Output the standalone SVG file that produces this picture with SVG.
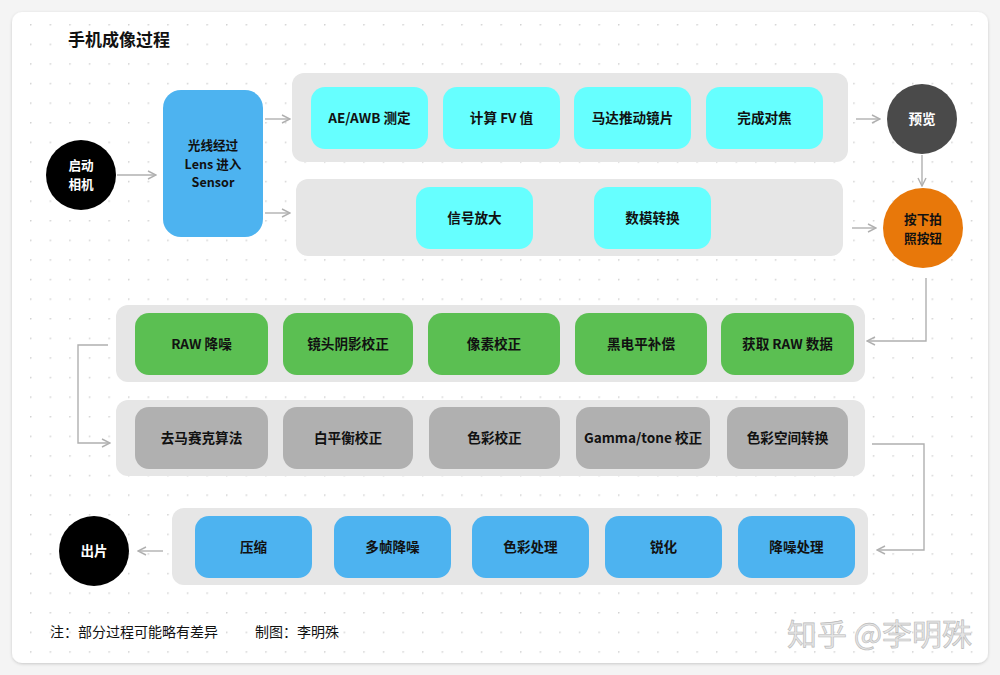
<svg xmlns="http://www.w3.org/2000/svg" width="1000" height="675" viewBox="0 0 1000 675">
<defs>
<pattern id="dots" x="30" y="24" width="19.6" height="19.6" patternUnits="userSpaceOnUse">
<circle cx="0.8" cy="0.8" r="0.8" fill="#c8c8c8"/>
</pattern>
<marker id="arr" viewBox="0 0 10 10" refX="9" refY="5" markerWidth="10" markerHeight="10" markerUnits="userSpaceOnUse" orient="auto">
<path d="M1,1 L9,5 L1,9" fill="none" stroke="#b0b0b0" stroke-width="1.4"/>
</marker>
<filter id="sh" x="-5%" y="-5%" width="110%" height="110%">
<feDropShadow dx="0" dy="1" stdDeviation="1.5" flood-color="#000" flood-opacity="0.18"/>
</filter>
</defs>
<style>
text{font-family:"Noto Sans CJK SC","Inter","Liberation Sans",sans-serif;font-weight:bold;font-size:13.6px;text-anchor:middle;fill:#111}
.ml{font-size:12.6px}
.grp{fill:#e6e6e6}
.cy{fill:#66ffff}
.gr{fill:#5bbf52}
.gy{fill:#b0b0b0}
.bl{fill:#4db3f0}
.conn{fill:none;stroke:#b0b0b0;stroke-width:1.4;marker-end:url(#arr)}
.note{font-weight:normal;text-anchor:start;font-size:14px}
</style>
<rect width="1000" height="675" fill="#f4f4f4"/>
<rect x="12" y="12" width="976" height="651" rx="10" fill="#fff" filter="url(#sh)"/>
<rect x="20" y="18" width="962" height="640" fill="url(#dots)"/>
<text x="68" y="46" style="text-anchor:start;font-size:17px">手机成像过程</text>

<g id="groups">
<rect class="grp" x="292" y="73" width="556" height="89" rx="12"/>
<rect class="grp" x="296" y="179" width="547" height="77" rx="12"/>
<rect class="grp" x="116" y="305" width="749" height="77" rx="12"/>
<rect class="grp" x="116" y="400" width="749" height="76" rx="12"/>
<rect class="grp" x="172" y="508" width="696" height="77" rx="12"/>
</g>

<g id="connectors">
<line class="conn" x1="117" y1="175" x2="156" y2="175"/>
<line class="conn" x1="265" y1="119" x2="290" y2="119"/>
<line class="conn" x1="265" y1="213" x2="290" y2="213"/>
<line class="conn" x1="856" y1="119" x2="880" y2="119"/>
<line class="conn" x1="922" y1="155" x2="922" y2="186"/>
<line class="conn" x1="852" y1="228" x2="876" y2="228"/>
<polyline class="conn" points="926,278 926,341 867,341"/>
<polyline class="conn" points="108,345 78,345 78,443 110,443"/>
<polyline class="conn" points="872,444 924,444 924,550 877,550"/>
<line class="conn" x1="163" y1="551" x2="138" y2="551"/>
</g>

<g id="start"><circle cx="81" cy="175" r="35" fill="#000"/><text class="ml" style="fill:#fff"><tspan x="81" y="170">启动</tspan><tspan x="81" dy="18.6">相机</tspan></text></g>
<g id="sensor"><rect class="bl" x="163" y="90" width="100" height="147" rx="18"/><text class="ml"><tspan x="213" y="150">光线经过</tspan><tspan x="213" dy="18.6">Lens 进入</tspan><tspan x="213" dy="18.6">Sensor</tspan></text></g>

<g id="ae"><rect class="cy" x="311" y="87" width="117" height="62" rx="14"/><text x="369.5" y="123">AE/AWB 测定</text></g>
<g id="fv"><rect class="cy" x="443" y="87" width="117" height="62" rx="14"/><text x="501.5" y="123">计算 FV 值</text></g>
<g id="motor"><rect class="cy" x="574" y="87" width="117" height="62" rx="14"/><text x="632.5" y="123">马达推动镜片</text></g>
<g id="focus"><rect class="cy" x="706" y="87" width="117" height="62" rx="14"/><text x="764.5" y="123">完成对焦</text></g>
<g id="amp"><rect class="cy" x="416" y="187" width="117" height="62" rx="14"/><text x="474.5" y="223">信号放大</text></g>
<g id="adc"><rect class="cy" x="594" y="187" width="117" height="62" rx="14"/><text x="652.5" y="223">数模转换</text></g>

<g id="preview"><circle cx="922" cy="119" r="35" fill="#4a4a4a"/><text x="922" y="124" style="fill:#fff">预览</text></g>
<g id="shutter"><circle cx="923" cy="228" r="40" fill="#e8780a"/><text class="ml"><tspan x="923" y="224">按下拍</tspan><tspan x="923" dy="18.6">照按钮</tspan></text></g>

<g id="rawnr"><rect class="gr" x="135" y="313" width="133" height="62" rx="14"/><text x="201.5" y="349">RAW 降噪</text></g>
<g id="lsc"><rect class="gr" x="283" y="313" width="130" height="62" rx="14"/><text x="348" y="349">镜头阴影校正</text></g>
<g id="dpc"><rect class="gr" x="428" y="313" width="132" height="62" rx="14"/><text x="494" y="349">像素校正</text></g>
<g id="blc"><rect class="gr" x="575" y="313" width="132" height="62" rx="14"/><text x="641" y="349">黑电平补偿</text></g>
<g id="raw"><rect class="gr" x="721" y="313" width="133" height="62" rx="14"/><text x="787.5" y="349">获取 RAW 数据</text></g>

<g id="demosaic"><rect class="gy" x="135" y="407" width="133" height="62" rx="14"/><text x="201.5" y="443">去马赛克算法</text></g>
<g id="awb"><rect class="gy" x="283" y="407" width="130" height="62" rx="14"/><text x="348" y="443">白平衡校正</text></g>
<g id="ccm"><rect class="gy" x="429" y="407" width="131" height="62" rx="14"/><text x="494.5" y="443">色彩校正</text></g>
<g id="gamma"><rect class="gy" x="576" y="407" width="134" height="62" rx="14"/><text x="643" y="443">Gamma/tone 校正</text></g>
<g id="csc"><rect class="gy" x="727" y="407" width="121" height="62" rx="14"/><text x="787.5" y="443">色彩空间转换</text></g>

<g id="compress"><rect class="bl" x="195" y="516" width="117" height="62" rx="14"/><text x="253.5" y="552">压缩</text></g>
<g id="mfnr"><rect class="bl" x="334" y="516" width="117" height="62" rx="14"/><text x="392.5" y="552">多帧降噪</text></g>
<g id="color"><rect class="bl" x="472" y="516" width="117" height="62" rx="14"/><text x="530.5" y="552">色彩处理</text></g>
<g id="sharpen"><rect class="bl" x="605" y="516" width="117" height="62" rx="14"/><text x="663.5" y="552">锐化</text></g>
<g id="nr"><rect class="bl" x="738" y="516" width="117" height="62" rx="14"/><text x="796.5" y="552">降噪处理</text></g>

<g id="output"><circle cx="94" cy="551" r="35" fill="#000"/><text x="94" y="556" style="fill:#fff">出片</text></g>

<text class="note" x="50" y="637">注：部分过程可能略有差异</text>
<text class="note" x="255" y="637">制图：李明殊</text>
<text x="787" y="645" style="text-anchor:start;font-size:30px;font-weight:normal;fill:#e4e4e4;stroke:#b8b8b8;stroke-width:0.6">知乎 @李明殊</text>
</svg>
